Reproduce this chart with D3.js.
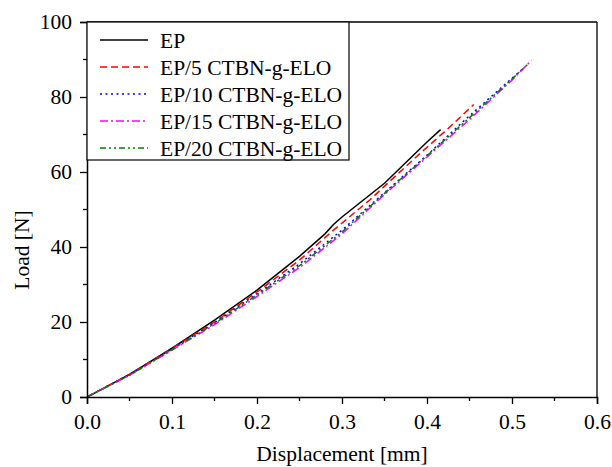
<!DOCTYPE html>
<html><head><meta charset="utf-8">
<script src="https://cdn.jsdelivr.net/npm/d3@7"></script>
<style>body{margin:0;background:#fff}svg{display:block}text{font-family:"Liberation Serif","Times New Roman",serif;fill:#000}</style>
</head><body>
<script>
const seriesNames = ["EP","EP/5 CTBN-g-ELO","EP/10 CTBN-g-ELO","EP/15 CTBN-g-ELO","EP/20 CTBN-g-ELO"];
const xTicks = [0,0.1,0.2,0.3,0.4,0.5,0.6];
const yTicks = [0,20,40,60,80,100];
const epX = [0,0.05,0.1,0.15,0.2,0.25,0.28,0.29,0.3,0.35,0.4,0.416];
const epY = [0,6,13,20.5,28.5,37.5,43.5,46,48,57,68,71.3];
const ep5X = [0,0.05,0.1,0.15,0.2,0.25,0.29,0.333,0.358,0.392,0.423,0.455];
const ep5Y = [0,6,13,20,28,36.5,44.5,52.6,57.9,65,71.2,78];
const ep10X = [0,0.05,0.1,0.15,0.2,0.25,0.3,0.35,0.4,0.45,0.5,0.515];
const ep10Y = [0,6,12.8,19.8,27.5,35.5,44.5,54.5,64.5,75,85,88];
const ep15X = [0,0.05,0.1,0.15,0.2,0.25,0.3,0.35,0.4,0.45,0.5,0.523];
const ep15Y = [0,5.8,12.5,19.3,26.8,34.5,43.5,54,64,74,84.5,89.8];
const ep20X = [0,0.05,0.1,0.15,0.2,0.25,0.3,0.35,0.4,0.45,0.5,0.518];
const ep20Y = [0,5.8,12.6,19.6,27.2,35,44,54.3,64.3,74.5,84.8,88.6];

const colors = ["#000000","#ff0000","#0000ff","#ff00ff","#008000"];
const dashes = [null,"7,4","2,3.5","8,3,2,3","6,3,2,3,2,3"];
const seriesX = [epX,ep5X,ep10X,ep15X,ep20X];
const seriesY = [epY,ep5Y,ep10Y,ep15Y,ep20Y];

const W=612,H=467, L=87, R=597, T=22, B=397;
const fs = 21.5;
const svg = d3.select("body").append("svg").attr("width",W).attr("height",H);
const x = d3.scaleLinear().domain([0,0.6]).range([L,R]);
const y = d3.scaleLinear().domain([0,100]).range([B,T]);

svg.append("clipPath").attr("id","clip").append("rect").attr("x",L).attr("y",T).attr("width",R-L).attr("height",B-T);

const line = d3.line().x(d=>x(d[0])).y(d=>y(d[1]));
[0,1,2,3,4].forEach(i=>{
  const pts = seriesX[i].map((v,k)=>[v,seriesY[i][k]]);
  svg.append("path").attr("clip-path","url(#clip)").attr("d",line(pts))
    .attr("fill","none").attr("stroke",colors[i]).attr("stroke-width",1.5)
    .attr("stroke-dasharray",dashes[i]);
});

// frame
svg.append("line").attr("x1",L).attr("x2",R).attr("y1",T).attr("y2",T).attr("stroke","#000").attr("stroke-width",1.3);
svg.append("line").attr("x1",R).attr("x2",R).attr("y1",T).attr("y2",B).attr("stroke","#000").attr("stroke-width",1.3);

// axes
const xAxis = d3.axisBottom(x).tickValues(xTicks).tickFormat(d3.format(".1f")).tickSize(7).tickPadding(10);
const gx = svg.append("g").attr("transform",`translate(0,${B})`).call(xAxis);
gx.selectAll("text").style("font-size",fs+"px").style("font-family","Liberation Serif");
const xMinor = d3.range(0.05,0.6,0.1);
gx.selectAll(".minor").data(xMinor).enter().append("line").attr("x1",d=>x(d)).attr("x2",d=>x(d)).attr("y1",0).attr("y2",4).attr("stroke","#000").attr("stroke-width",1.3);

const yAxis = d3.axisLeft(y).tickValues(yTicks).tickSize(7).tickPadding(8);
const gy = svg.append("g").attr("transform",`translate(${L},0)`).call(yAxis);
gy.selectAll("text").style("font-size",fs+"px").style("font-family","Liberation Serif");
const yMinor = d3.range(10,100,20);
gy.selectAll(".minor").data(yMinor).enter().append("line").attr("y1",d=>y(d)).attr("y2",d=>y(d)).attr("x1",0).attr("x2",-4).attr("stroke","#000").attr("stroke-width",1.3);
[gx,gy].forEach(g=>{g.select(".domain").attr("stroke-width",1.5);g.selectAll(".tick line").attr("stroke-width",1.3);});

svg.append("text").attr("x",(L+R)/2).attr("y",461).attr("text-anchor","middle").style("font-size",fs+"px").text("Displacement [mm]");
svg.append("text").attr("transform",`translate(29,250) rotate(-90)`).attr("text-anchor","middle").style("font-size",fs+"px").text("Load [N]");

// legend
const lg = svg.append("g");
lg.append("rect").attr("x",L).attr("y",T).attr("width",349-L).attr("height",160-T).attr("fill","#fff").attr("stroke","#000").attr("stroke-width",1.2);
seriesNames.forEach((n,i)=>{
  const yy = 40 + i*27;
  lg.append("line").attr("x1",100).attr("x2",148).attr("y1",yy).attr("y2",yy)
    .attr("stroke",colors[i]).attr("stroke-width",1.5).attr("stroke-dasharray",dashes[i]);
  lg.append("text").attr("x",160).attr("y",yy+7.5).style("font-size",fs+"px").text(n);
});
</script>
</body></html>
